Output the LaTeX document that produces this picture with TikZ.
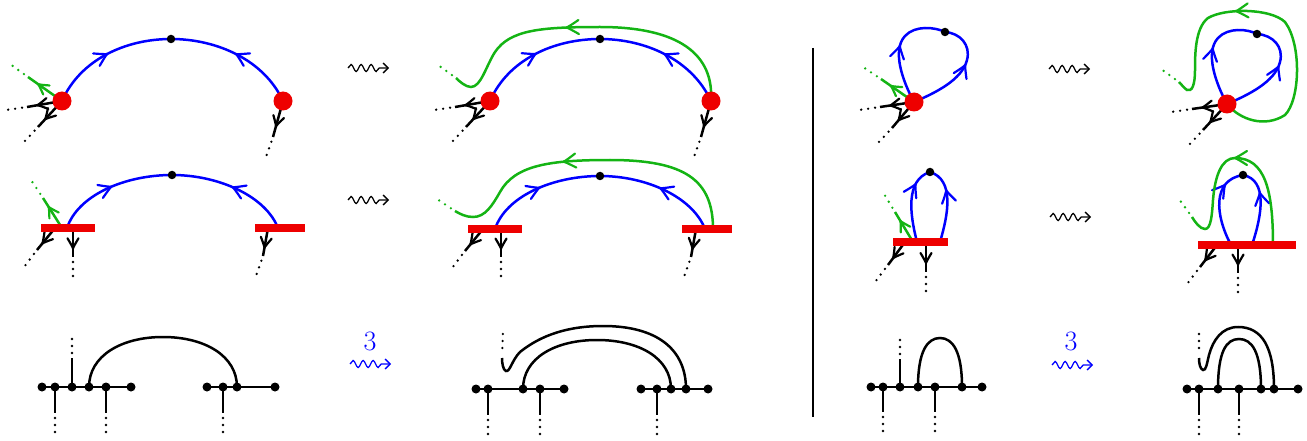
\documentclass[tikz,border=0pt]{standalone}
\usetikzlibrary{arrows.meta,decorations.markings,decorations.pathmorphing}
\definecolor{mygreen}{RGB}{20,180,20}
\definecolor{myblue}{RGB}{0,0,255}
\definecolor{myred}{RGB}{238,0,0}
\pgfdeclarelayer{bg}
\pgfsetlayers{bg,main}
\tikzset{
  headshape/.style={line width=2.2pt,line cap=round,line join=round,solid},
  midarr/.style={postaction={decorate,decoration={markings,mark=at position #1 with {%
     \draw[headshape] (-12pt,7pt) .. controls (-6pt,3.2pt) and (-2pt,0.8pt) .. (0pt,0pt)
        .. controls (-2pt,-0.8pt) and (-6pt,-3.2pt) .. (-12pt,-7pt);}}}},
  midarrs/.style={postaction={decorate,decoration={markings,mark=at position #1 with {%
     \draw[headshape] (-10pt,5.5pt) .. controls (-5pt,2.5pt) and (-1.8pt,0.7pt) .. (0pt,0pt)
        .. controls (-1.8pt,-0.7pt) and (-5pt,-2.5pt) .. (-10pt,-5.5pt);}}}},
  bluearc/.style={myblue,line width=2.5pt},
  greenln/.style={mygreen,line width=2.5pt},
  leg/.style={line width=2.5pt,midarrs=0.7},
  dotleg/.style={line width=2.6pt,line cap=round,dash pattern=on 0pt off 7pt,dash phase=#1},
  dotleg/.default=2pt,
  reddot/.style={circle,fill=myred,inner sep=0pt,minimum size=19pt},
  bdot/.style={circle,fill=black,inner sep=0pt,minimum size=8.5pt},
  ndot/.style={circle,fill=black,inner sep=0pt,minimum size=9pt},
  redbar/.style={rectangle,fill=myred,inner sep=0pt,minimum height=8.5pt,minimum width=#1},
  wig/.style={line width=1.3pt,decorate,decoration={snake,amplitude=3.5pt,segment length=10pt,post length=5pt},-{Straight Barb[length=5pt,width=10pt]}},
  bline/.style={line width=2.5pt},
  lbl/.style={text=myblue,font=\fontsize{28}{30}\selectfont,inner sep=0pt},
}
\newcommand\legx[5]{\coordinate (#3a) at #4; \coordinate (#3b) at #5;
  \draw[leg,#1] (#2) -- (#3a); \draw[dotleg,#1] (#3a) -- (#3b);}
\newcommand\stubx[4]{\coordinate (#2a) at #3; \coordinate (#2b) at #4;
  \draw[bline] (#1) -- (#2a); \draw[dotleg] (#2a) -- (#2b);}
\begin{document}
\begin{tikzpicture}[x=1pt,y=-1pt]
\useasboundingbox (0,0) rectangle (1307,441);
% ---------- nodes ----------
\node[reddot] (r1) at (62,101) {};
\node[reddot] (r2) at (283,101) {};
\node[bdot] (t1) at (171,39) {};
\node[reddot] (r3) at (490,101) {};
\node[reddot] (r4) at (711,101) {};
\node[bdot] (t2) at (600,39) {};
\node[redbar=54pt] (bar1) at (68,228) {};
\node[redbar=50pt] (bar2) at (280,228) {};
\node[bdot] (t3) at (172,175) {};
\node[redbar=54pt] (bar3) at (495,229) {};
\node[redbar=50pt] (bar4) at (707,229) {};
\node[bdot] (t4) at (600,176) {};
\node[reddot] (r5) at (914,102) {};
\node[bdot] (t5) at (945,32) {};
\node[reddot] (r6) at (1227,104) {};
\node[bdot] (t6) at (1257,34) {};
\node[redbar=55pt] (bar5) at (920,242) {};
\node[bdot] (t7) at (930,172) {};
\node[redbar=98pt] (bar6) at (1247,245) {};
\node[bdot] (t8) at (1243,175) {};
\foreach \x/\n in {42/a,55/b,72/c,89/d,106/e,131/f,207/g,223/h,237/i,275/j}
  \node[ndot] (p1\n) at (\x,387) {};
\foreach \x/\n in {476/a,488/b,523/c,540/d,564/e,641/f,657/g,671/h,686/i,708/j}
  \node[ndot] (p2\n) at (\x,389) {};
\foreach \x/\n in {871/a,883/b,900/c,918/d,935/e,962/f,982/g}
  \node[ndot] (p3\n) at (\x,387) {};
\foreach \x/\n in {1187/a,1199/b,1218/c,1239/d,1261/e,1274/f,1298/g}
  \node[ndot] (p4\n) at (\x,389) {};
\node[lbl] (k1) at (370,341) {3};
\node[lbl] (k2) at (1071,341) {3};
% ---------- coordinates ----------
\coordinate (c1) at (67,228);
\coordinate (c2) at (278,228);
\coordinate (c3) at (495,229);
\coordinate (c4) at (705,229);
\coordinate (c5) at (917,242);
\coordinate (c6) at (940,242);
\coordinate (c7) at (1231,245);
\coordinate (c8) at (1252,245);
\coordinate (s1) at (62,228);
\coordinate (s2) at (55,228);
\coordinate (s3) at (73,228);
\coordinate (s4) at (268,228);
\coordinate (s5) at (483,229);
\coordinate (s6) at (501,229);
\coordinate (s7) at (696,229);
\coordinate (s8) at (913,242);
\coordinate (s9) at (905,242);
\coordinate (s10) at (926,242);
\coordinate (s11) at (1217,245);
\coordinate (s12) at (1238,245);
\coordinate (g2s) at (713,229);
\coordinate (g4s) at (1273,245);
\coordinate (g1a) at (456,78);   \coordinate (g1b) at (438,65);
\coordinate (g2a) at (455,211);  \coordinate (g2b) at (437,199);
\coordinate (g3a) at (1179,82);  \coordinate (g3b) at (1161,69);
\coordinate (g4a) at (1192,217); \coordinate (g4b) at (1179,199);
\coordinate (q2a) at (502,358);  \coordinate (q2b) at (503,331);
\coordinate (q4a) at (1199,358); \coordinate (q4b) at (1199,331);
\coordinate (w1a) at (348,68);   \coordinate (w1b) at (389,68);
\coordinate (w2a) at (348,200);  \coordinate (w2b) at (389,200);
\coordinate (w3a) at (1049,69);  \coordinate (w3b) at (1090,69);
\coordinate (w4a) at (1050,217); \coordinate (w4b) at (1091,217);
\coordinate (w5a) at (350,364);  \coordinate (w5b) at (391,364);
\coordinate (w6a) at (1052,365); \coordinate (w6b) at (1093,365);
\coordinate (sep1) at (813,48);  \coordinate (sep2) at (813,417);
\begin{pgfonlayer}{bg}
% ===== top row, left =====
\draw[bluearc,midarr=0.5] (r1.center) .. controls (80,60) and (125,39) .. (t1.center);
\draw[bluearc,midarr=0.5] (r2.center) .. controls (264,60) and (217,39) .. (t1.center);
\legx{black}{r1.center}{l1}{(27,107)}{(6,110)}
\legx{black}{r1.center}{l2}{(38,127)}{(24,142)}
\legx{mygreen}{r1.center}{l3}{(28,77)}{(10,64)}
\legx{black}{r2.center}{l4}{(273,137)}{(266,157)}
\draw[bluearc,midarr=0.5] (r3.center) .. controls (508,60) and (553,39) .. (t2.center);
\draw[bluearc,midarr=0.5] (r4.center) .. controls (692,60) and (646,39) .. (t2.center);
\legx{black}{r3.center}{l5}{(455,107)}{(434,110)}
\legx{black}{r3.center}{l6}{(466,127)}{(452,142)}
\legx{black}{r4.center}{l7}{(701,137)}{(694,157)}
\draw[greenln,midarr=0.57] (r4.center) .. controls (714,55) and (680,27) .. (600,27)
  .. controls (540,27) and (510,30) .. (495,52)
  .. controls (486,66) and (481,87) .. (471,87)
  .. controls (466,87) and (460,82) .. (g1a);
\draw[greenln,dotleg] (g1a) -- (g1b);
% ===== second row, left =====
\draw[bluearc,midarr=0.5] (c1) .. controls (78,195) and (125,175) .. (t3.center);
\draw[bluearc,midarr=0.5] (c2) .. controls (266,197) and (220,175) .. (t3.center);
\legx{mygreen}{s1}{l8}{(43,198)}{(31,180)}
\legx{black}{s2}{l9}{(37,250)}{(24,267)}
\legx{black}{s3}{l10}{(73,257)}{(73,278)}
\legx{black}{s4}{l11}{(263,256)}{(256,276)}
\draw[bluearc,midarr=0.5] (c3) .. controls (506,196) and (553,176) .. (t4.center);
\draw[bluearc,midarr=0.5] (c4) .. controls (693,198) and (648,176) .. (t4.center);
\legx{black}{s5}{l12}{(465,251)}{(452,268)}
\legx{black}{s6}{l13}{(501,257)}{(501,278)}
\legx{black}{s7}{l14}{(691,257)}{(684,277)}
\draw[greenln,midarr=0.59] (g2s) .. controls (713,180) and (685,160) .. (610,160)
  .. controls (550,160) and (515,165) .. (500,192)
  .. controls (492,206) and (485,217) .. (473,217)
  .. controls (466,217) and (460,214) .. (g2a);
\draw[greenln,dotleg] (g2a) -- (g2b);
% ===== top row, right =====
\draw[bluearc,midarr=0.52] (r5.center) .. controls (902,80) and (892,50) .. (905,36)
  .. controls (915,25) and (935,27) .. (t5.center);
\draw[bluearc,midarr=0.58] (r5.center) .. controls (935,93) and (962,80) .. (967,60)
  .. controls (971,45) and (960,33) .. (t5.center);
\legx{black}{r5.center}{l15}{(880,107)}{(859,110)}
\legx{black}{r5.center}{l16}{(892,128)}{(878,143)}
\legx{mygreen}{r5.center}{l17}{(881,79)}{(863,67)}
\draw[bluearc,midarr=0.52] (r6.center) .. controls (1215,82) and (1205,52) .. (1218,38)
  .. controls (1228,27) and (1248,29) .. (t6.center);
\draw[bluearc,midarr=0.58] (r6.center) .. controls (1248,95) and (1275,82) .. (1280,62)
  .. controls (1284,47) and (1273,35) .. (t6.center);
\legx{black}{r6.center}{l18}{(1192,109)}{(1171,112)}
\legx{black}{r6.center}{l19}{(1203,130)}{(1189,145)}
\draw[greenln,midarr=0.64] (r6.center) .. controls (1240,120) and (1265,128) .. (1285,115)
  .. controls (1300,100) and (1302,45) .. (1285,22)
  .. controls (1270,8) and (1225,8) .. (1208,18)
  .. controls (1195,28) and (1195,55) .. (1195,70)
  .. controls (1195,85) and (1192,92) .. (1187,90)
  .. controls (1184,88) and (1181,84) .. (g3a);
\draw[greenln,dotleg] (g3a) -- (g3b);
% ===== second row, right =====
\draw[bluearc,midarr=0.75] (c5) .. controls (910,215) and (905,180) .. (t7.center);
\draw[bluearc,midarr=0.67] (c6) .. controls (948,215) and (955,180) .. (t7.center);
\legx{mygreen}{s8}{l20}{(895,212)}{(884,194)}
\legx{black}{s9}{l21}{(888,265)}{(875,282)}
\legx{black}{s10}{l22}{(926,272)}{(926,293)}
\draw[bluearc,midarr=0.75] (c7) .. controls (1215,215) and (1212,180) .. (t8.center);
\draw[bluearc,midarr=0.67] (c8) .. controls (1262,215) and (1268,180) .. (t8.center);
\legx{black}{s11}{l23}{(1200,267)}{(1187,284)}
\legx{black}{s12}{l24}{(1238,273)}{(1238,294)}
\draw[greenln,midarr=0.51] (g4s) .. controls (1273,190) and (1265,158) .. (1235,158)
  .. controls (1222,158) and (1215,175) .. (1213,200)
  .. controls (1212,215) and (1211,229) .. (1205,229)
  .. controls (1200,229) and (1195,222) .. (g4a);
\draw[greenln,dotleg] (g4a) -- (g4b);
% ===== wiggly arrows and separator =====
\draw[wig] (w1a) -- (w1b);
\draw[wig] (w2a) -- (w2b);
\draw[wig] (w3a) -- (w3b);
\draw[wig] (w4a) -- (w4b);
\draw[wig,myblue] (w5a) -- (w5b);
\draw[wig,myblue] (w6a) -- (w6b);
\draw[line width=1.1pt] (sep1) -- (sep2);
% ===== bottom row =====
\draw[bline] (p1a.center) -- (p1f.center);
\draw[bline] (p1g.center) -- (p1j.center);
\stubx{p1c.center}{u1}{(72,358)}{(72,336)}
\stubx{p1b.center}{u2}{(55,413)}{(55,434)}
\stubx{p1e.center}{u3}{(106,413)}{(106,434)}
\stubx{p1h.center}{u4}{(223,413)}{(223,434)}
\draw[bline] (p1d.center) .. controls (89,356) and (121,337) .. (163,337)
  .. controls (205,337) and (237,356) .. (p1i.center);
\draw[bline] (p2a.center) -- (p2e.center);
\draw[bline] (p2f.center) -- (p2j.center);
\stubx{p2b.center}{u5}{(488,415)}{(488,436)}
\stubx{p2d.center}{u6}{(540,415)}{(540,436)}
\stubx{p2g.center}{u7}{(657,415)}{(657,436)}
\draw[bline] (p2c.center) .. controls (523,358) and (555,340) .. (597,340)
  .. controls (639,340) and (671,358) .. (p2h.center);
\draw[bline] (p2i.center) .. controls (686,350) and (658,326) .. (603,326)
  .. controls (560,326) and (535,340) .. (520,352)
  .. controls (512,360) and (510,372) .. (506,371)
  .. controls (503,370) and (502,363) .. (q2a);
\draw[dotleg=0.5pt,shorten <=3.5pt] (q2a) -- (q2b);
\draw[bline] (p3a.center) -- (p3g.center);
\stubx{p3c.center}{u8}{(900,359)}{(900,336)}
\stubx{p3b.center}{u9}{(883,412)}{(883,434)}
\stubx{p3e.center}{u10}{(935,412)}{(935,434)}
\draw[bline] (p3d.center) .. controls (918,352) and (927,338) .. (940,338)
  .. controls (953,338) and (962,352) .. (p3f.center);
\draw[bline] (p4a.center) -- (p4g.center);
\stubx{p4b.center}{u11}{(1199,415)}{(1199,436)}
\stubx{p4d.center}{u12}{(1239,415)}{(1239,436)}
\draw[bline] (p4c.center) .. controls (1218,352) and (1226,339) .. (1239,339)
  .. controls (1252,339) and (1261,352) .. (p4e.center);
\draw[bline] (p4f.center) .. controls (1274,347) and (1262,327) .. (1238,327)
  .. controls (1222,327) and (1213,340) .. (1209,355)
  .. controls (1207,363) and (1206,371) .. (1203,370)
  .. controls (1200,369) and (1199,363) .. (q4a);
\draw[dotleg=0.5pt,shorten <=3.5pt] (q4a) -- (q4b);
\end{pgfonlayer}
\end{tikzpicture}
\end{document}
